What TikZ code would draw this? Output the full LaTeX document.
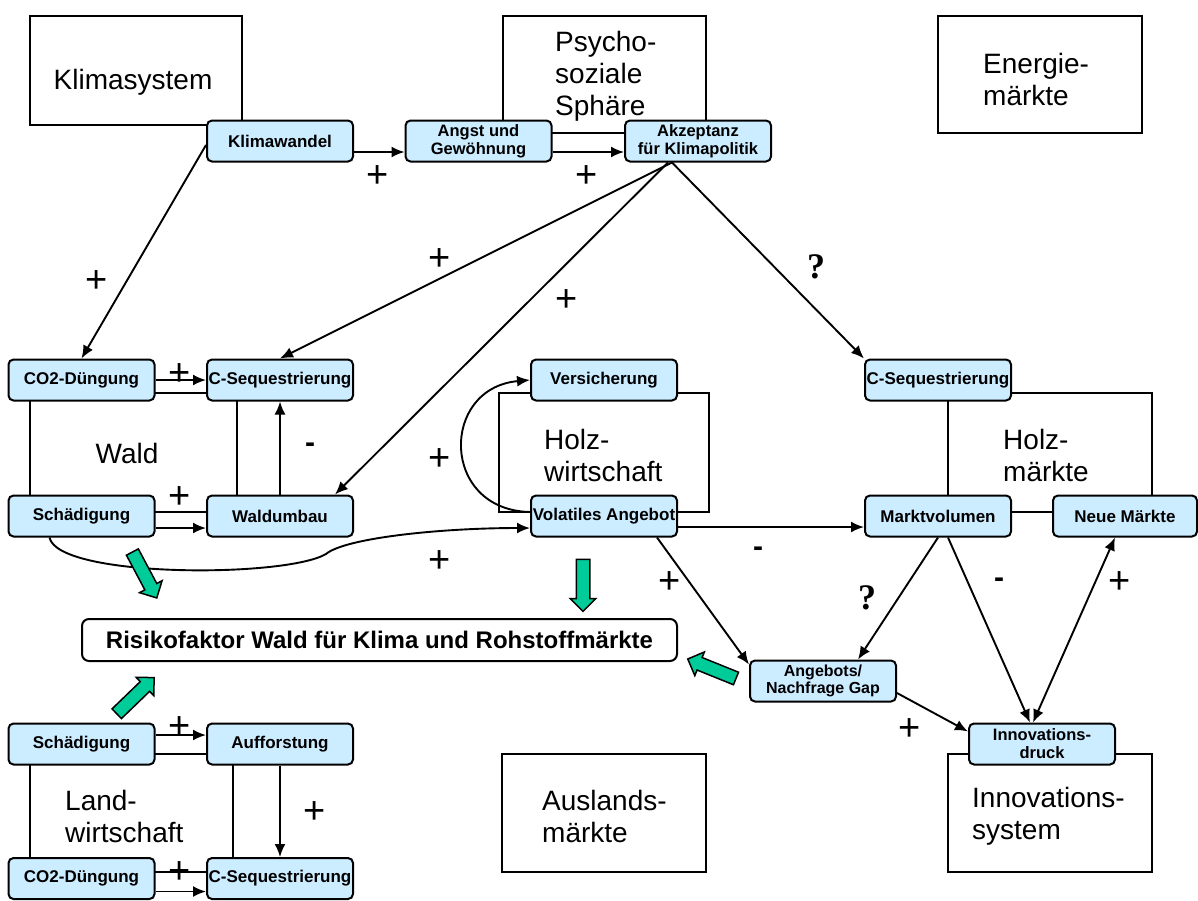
\documentclass[tikz,border=0pt]{standalone}
\usepackage{fontspec}
\setmainfont{Liberation Sans}
\newfontfamily\qfont{Liberation Serif}
\usepackage{tikz}
\usetikzlibrary{shapes.arrows,arrows.meta}
\definecolor{nodeblue}{HTML}{CCECFF}
\definecolor{flowgreen}{HTML}{00CC99}

\begin{document}
\begin{tikzpicture}[
    x=1pt, y=-1pt,
    area frame/.style={line width=2pt},
    area label/.style={font=\fontsize{28}{32}\selectfont, align=left, anchor=west, inner sep=0pt},
    factor/.style={draw, line width=2pt, rounded corners=5pt, fill=nodeblue,
        minimum width=146pt, minimum height=41pt, inner sep=1pt,
        font=\fontsize{17}{17}\selectfont\bfseries, align=center},
    small factor/.style={factor, font=\fontsize{16.5}{18}\selectfont\bfseries},
    link line/.style={line width=1.9pt, ->, >={Latex[length=13pt,width=11pt]}},
    sign/.style={font=\fontsize{38}{38}\selectfont, inner sep=0pt},
    minus sign/.style={font=\fontsize{30}{30}\selectfont\bfseries, inner sep=0pt},
    question/.style={font=\fontsize{36}{36}\selectfont\qfont\bfseries, inner sep=0pt},
    risk arrow/.style={single arrow, draw, line width=1.5pt, fill=flowgreen,
        minimum height=52pt, inner xsep=0pt, inner ysep=6pt,
        single arrow head extend=6pt}
    ]
    \useasboundingbox (0,0) rectangle (1198,900);

    % Frames of the systems
    \draw[area frame] (30,16) rectangle (242,125);
    \draw[area frame] (503,16) rectangle (706,133);
    \draw[area frame] (938,16) rectangle (1142,133);
    \draw[area frame] (30,393) rectangle (237,512);
    \draw[area frame] (499,393) rectangle (709,512);
    \draw[area frame] (948,393) rectangle (1152,512);
    \draw[area frame] (30,754) rectangle (233,872);
    \draw[area frame] (502,754) rectangle (706,872);
    \draw[area frame] (948,754) rectangle (1152,872);

    \node[area label, anchor=center] (klimasys) at (133,82) {Klimasystem};
    \node[area label] (psycho) at (555,76) {Psycho-\\soziale\\Sphäre};
    \node[area label] (energie) at (983,79) {Energie-\\märkte};
    \node[area label, anchor=center] (wald) at (127,453) {Wald};
    \node[area label] (holzwirt) at (544,455) {Holz-\\wirtschaft};
    \node[area label] (holzmarkt) at (1003,455) {Holz-\\märkte};
    \node[area label] (landwirt) at (65,816) {Land-\\wirtschaft};
    \node[area label] (ausland) at (542,816) {Auslands-\\märkte};
    \node[area label] (innosys) at (972,816) {Innovations-\\system};

    % Factors
    \node[factor] (klimawandel) at (280,141) {Klimawandel};
    \node[small factor] (angst) at (478.5,141) {Angst und\\Gewöhnung};
    \node[small factor] (akzeptanz) at (698,141) {Akzeptanz\\für Klimapolitik};
    \node[factor] (co2wald) at (81.5,380) {CO2-Düngung};
    \node[factor] (cseqwald) at (280,380) {C-Sequestrierung};
    \node[factor] (schadwald) at (81.5,516) {Schädigung};
    \node[factor] (waldumbau) at (280,516) {Waldumbau};
    \node[factor] (versich) at (604,380) {Versicherung};
    \node[factor] (volatil) at (604,516) {Volatiles Angebot};
    \node[factor] (cseqmarkt) at (938,380) {C-Sequestrierung};
    \node[factor] (marktvol) at (938,516) {Marktvolumen};
    \node[factor, minimum width=144pt] (neuemarkt) at (1125,516) {Neue Märkte};
    \node[small factor, font=\fontsize{16}{17}\selectfont\bfseries] (gap) at (823,681) {Angebots/\\Nachfrage Gap};
    \node[small factor] (innodruck) at (1042,744) {Innovations-\\druck};
    \node[factor] (schadland) at (81.5,744) {Schädigung};
    \node[factor] (aufforst) at (280,744) {Aufforstung};
    \node[factor] (co2land) at (81.5,878.5) {CO2-Düngung};
    \node[factor] (cseqland) at (280,878.5) {C-Sequestrierung};

    \node[draw, line width=2pt, rounded corners=7pt, minimum width=595pt, minimum height=42pt,
        font=\fontsize{24}{24}\selectfont\bfseries] (risiko) at (379.5,640)
        {Risikofaktor Wald für Klima und Rohstoffmärkte};

    % Links from climate and psycho-social sphere
    \draw[link line] ([yshift=-11pt]klimawandel.east) -- ([yshift=-11pt]angst.west);
    \draw[link line] ([yshift=-11pt]angst.east) -- ([yshift=-11pt]akzeptanz.west);
    \draw[link line] ([yshift=-4pt]klimawandel.west) -- (co2wald.north);
    \draw[link line] ([xshift=-26pt]akzeptanz.south) -- (cseqwald.north);
    \draw[link line] ([xshift=-30pt]akzeptanz.south) -- ([xshift=55pt]waldumbau.north);
    \draw[link line] ([xshift=-26pt]akzeptanz.south) -- (cseqmarkt.north west);

    % Wald
    \draw[link line] (co2wald) -- (cseqwald);
    \draw[link line] ([yshift=-12pt]schadwald.east) -- ([yshift=-12pt]waldumbau.west);
    \draw[link line] (waldumbau) -- (cseqwald);
    \draw[link line] ([xshift=-32pt]schadwald.south) .. controls (58,578) and (285,578) .. (326,554)
        .. controls (345,538) and (440,528) .. ([yshift=-12pt]volatil.west);

    % Holzwirtschaft
    \draw[link line] ([yshift=4pt]volatil.west) .. controls (440,510) and (440,388) .. (versich.west);

    % Holzmaerkte
    \draw[link line] ([yshift=-11pt]volatil.east) -- ([yshift=-11pt]marktvol.west);
    \draw[link line] ([xshift=53pt]volatil.south) -- ([yshift=-5pt]gap.north west);
    \draw[link line] (marktvol.south) -- ([xshift=35pt]gap.north);
    \draw[link line] ([xshift=10pt]marktvol.south) -- ([xshift=-12pt]innodruck.north);
    \draw[link line, <->] ([xshift=-9pt]innodruck.north) -- ([xshift=-10pt]neuemarkt.south);
    \draw[link line] ([yshift=-12pt]gap.east) -- ([yshift=-9pt]innodruck.north west);

    % Landwirtschaft
    \draw[link line] ([yshift=9pt]schadland.east) -- ([yshift=9pt]aufforst.west);
    \draw[link line] (aufforst) -- (cseqland);
    \draw[link line] ([yshift=-13pt]co2land.east) -- ([yshift=-13pt]cseqland.west);

    % Risk arrows
    \node[risk arrow, rotate=-62] (risk1) at (143,572) {};
    \node[risk arrow, rotate=-90] (risk2) at (583,582) {};
    \node[risk arrow, rotate=44] (risk3) at (133,698) {};
    \node[risk arrow, rotate=158] (risk4) at (715,670) {};

    % Signs
    \node[sign] (s1) at (378,177) {+};
    \node[sign] (s2) at (587,177) {+};
    \node[sign] (s3) at (97,282) {+};
    \node[sign] (s4) at (440,260) {+};
    \node[sign] (s5) at (567,301) {+};
    \node[question] (q1) at (816,267) {?};
    \node[sign] (s6) at (180,375) {+};
    \node[sign] (s7) at (180,498) {+};
    \node[minus sign] (m1) at (310,448) {-};
    \node[sign] (s8) at (440,460) {+};
    \node[sign] (s9) at (440,562) {+};
    \node[minus sign] (m2) at (758,552) {-};
    \node[sign] (s10) at (670,583) {+};
    \node[question] (q2) at (867,598) {?};
    \node[minus sign] (m3) at (999,583) {-};
    \node[sign] (s11) at (1120,583) {+};
    \node[sign] (s12) at (910,730) {+};
    \node[sign] (s13) at (180,728) {+};
    \node[sign] (s14) at (315,813) {+};
    \node[sign] (s15) at (180,873) {+};
\end{tikzpicture}
\end{document}
